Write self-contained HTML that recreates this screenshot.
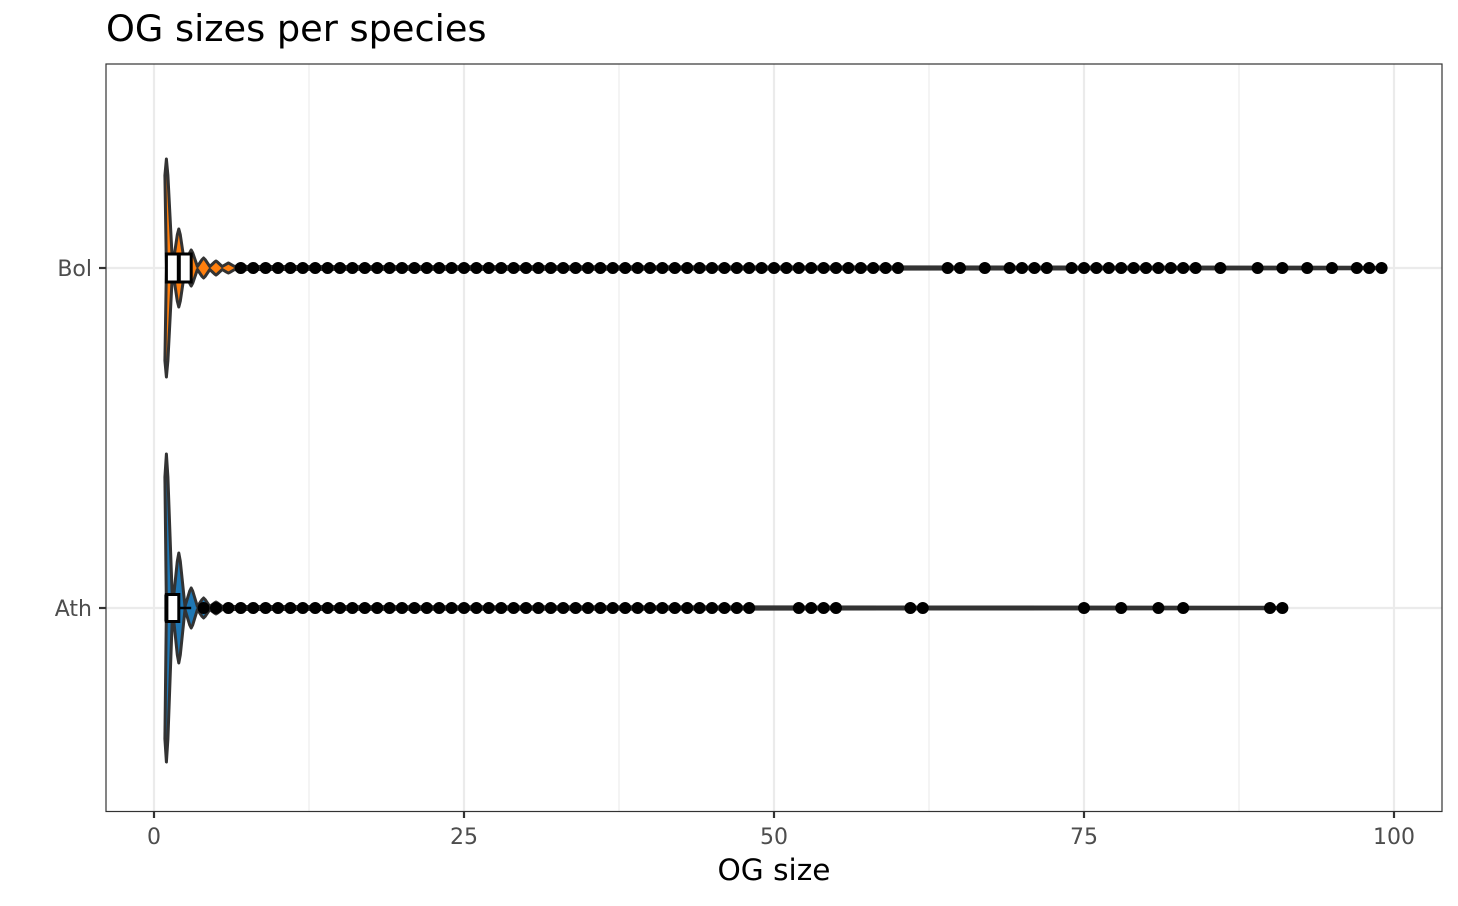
<!DOCTYPE html>
<html><head><meta charset="utf-8"><style>
body{margin:0;background:#fff;}
svg text{font-family:"DejaVu Sans","Liberation Sans",sans-serif;}
</style></head><body>
<svg id="chart" width="1458" height="901" viewBox="0 0 1458 901" xmlns="http://www.w3.org/2000/svg">
<rect x="0" y="0" width="1458" height="901" fill="#fff"/>
<text x="106" y="41" font-size="36.7" fill="#000">OG sizes per species</text>
<g id="grid"></g>
<g id="marks"></g>
<rect x="106" y="64" width="1336" height="747.5" fill="none" stroke="#333" stroke-width="1.2"/>
<g id="axes"></g>
<text x="774" y="880" font-size="29.6" text-anchor="middle" fill="#000">OG size</text>
</svg>
<script>
const species = ["Bol", "Ath"];
const xTicks = [0, 25, 50, 75, 100];
const bolDensity = [109, 39, 18, 10, 7, 5, 3];
const athDensity = [154, 55, 20, 10, 6];
const bolBox = [1, 2, 3];
const athBox = [1, 1, 2];
const bolWhisker = 3;
const athWhisker = 3;
const bolOutliers = [7,8,9,10,11,12,13,14,15,16,17,18,19,20,21,22,23,24,25,26,27,28,29,30,31,32,33,34,35,36,37,38,39,40,41,42,43,44,45,46,47,48,49,50,51,52,53,54,55,56,57,58,59,60,64,65,67,69,70,71,72,74,75,76,77,78,79,80,81,82,83,84,86,89,91,93,95,97,98,99];
const athOutliers = [4,5,6,7,8,9,10,11,12,13,14,15,16,17,18,19,20,21,22,23,24,25,26,27,28,29,30,31,32,33,34,35,36,37,38,39,40,41,42,43,44,45,46,47,48,52,53,54,55,61,62,75,78,81,83,90,91];

const NS = "http://www.w3.org/2000/svg";
const xs = v => 154 + v * 12.4;
const ys = i => [268, 608][i];
function mk(tag, attrs, parent){const e=document.createElementNS(NS,tag);for(const k in attrs)e.setAttribute(k,attrs[k]);parent.appendChild(e);return e;}
const grid=document.getElementById('grid'), marks=document.getElementById('marks'), axes=document.getElementById('axes');

for(let i=0;i<xTicks.length;i++){
  const t=xTicks[i];
  const g=mk('line',{x1:xs(t),x2:xs(t),y1:64,y2:811,stroke:'#ebebeb','stroke-width':2.2},grid);
  
  
  if(i<xTicks.length-1){
    const m=(t+xTicks[i+1])/2;
    const g2=mk('line',{x1:xs(m),x2:xs(m),y1:64,y2:811,stroke:'#ebebeb','stroke-width':1.1},grid);
    
    
  }
}
species.forEach((s,i)=>{
  const g=mk('line',{x1:106,x2:1442,y1:ys(i),y2:ys(i),stroke:'#ebebeb','stroke-width':2.2},grid);
  
  
});

function violin(i, dens, box, whisk, outs, fill){
  const y=ys(i);
  const max=outs.length?outs[outs.length-1]:dens.length;
  const top=[];
  top.push([xs(1),y]);
  for(let k=0;k<dens.length;k++){
    const v=k+1;
    top.push([xs(v-0.12),y-dens[k]*0.85]);
    top.push([xs(v),y-dens[k]]);
    top.push([xs(v+0.12),y-dens[k]*0.85]);
    top.push([xs(v+0.5),y-1.5]);
  }
  top.push([xs(max),y-0.8]);
  const pts=top.map(p=>p[0].toFixed(1)+','+p[1].toFixed(1));
  const pb=top.slice().reverse().map(p=>p[0].toFixed(1)+','+(2*y-p[1]).toFixed(1));
  const v=mk('polygon',{points:pts.concat(pb).join(' '),fill:fill,stroke:'#333','stroke-width':3,'stroke-linejoin':'round'},marks);
  
  
  const h=i===0?14:13.5;
  const w=mk('line',{x1:xs(box[2]),x2:xs(whisk),y1:y,y2:y,stroke:'#000','stroke-width':2.5},marks);
  
  
  const b=mk('rect',{x:xs(box[0]),y:y-h,width:xs(box[2])-xs(box[0]),height:2*h,fill:'#fff',stroke:'#000','stroke-width':3},marks);
  
  
  const md=mk('line',{x1:xs(box[1]),x2:xs(box[1]),y1:y-h,y2:y+h,stroke:'#000','stroke-width':4},marks);
  
  
  outs.forEach(o=>{
    const c=mk('circle',{cx:xs(o),cy:y,r:6,fill:'#000'},marks);
    
    
  });
}
violin(0,bolDensity,bolBox,bolWhisker,bolOutliers,'#FF7F0E');
violin(1,athDensity,athBox,athWhisker,athOutliers,'#1F77B4');

xTicks.forEach(t=>{
  const l=mk('line',{x1:xs(t),x2:xs(t),y1:811,y2:818,stroke:'#333','stroke-width':2.2},axes);
  
  
  const tx=mk('text',{x:xs(t),y:844,'font-size':22,'text-anchor':'middle',fill:'#4d4d4d'},axes);
  tx.textContent=t;
  
  
});
species.forEach((s,i)=>{
  const l=mk('line',{x1:99,x2:106,y1:ys(i),y2:ys(i),stroke:'#333','stroke-width':2.2},axes);
  
  
  const tx=mk('text',{x:92,y:ys(i)+8,'font-size':22,'text-anchor':'end',fill:'#4d4d4d'},axes);
  tx.textContent=s;
  
  
});
</script>
</body></html>
